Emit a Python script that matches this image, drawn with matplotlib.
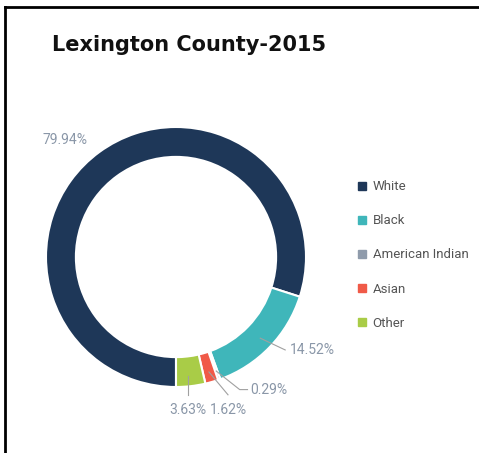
import numpy as np
import matplotlib
matplotlib.use("Agg")
import matplotlib.pyplot as plt
from matplotlib.lines import Line2D

categories = ["White", "Black", "American Indian", "Asian", "Other"]
values = [79.94, 14.52, 0.29, 1.62, 3.63]
colors = ["#1e3758", "#3fb6ba", "#8f9bab", "#f05a48", "#a9cc47"]
label_text = ["79.94%", "14.52%", "0.29%", "1.62%", "3.63%"]

W, H = 479, 453
fig = plt.figure(figsize=(W / 100, H / 100), dpi=100)

# border lines (left and top)
fig.add_artist(Line2D([5 / W, 5 / W], [0, 1 - 7 / H], transform=fig.transFigure, color="black", lw=2))
fig.add_artist(Line2D([5 / W, 1], [1 - 7 / H, 1 - 7 / H], transform=fig.transFigure, color="black", lw=2))

fig.text(52 / W, 1 - 45 / H, "Lexington County-2015", fontsize=15, fontweight="bold",
         color="#111111", va="center", ha="left")

cx, cy, R = 176, 257, 130
L = 1.3
half = L * R
ax = fig.add_axes([(cx - half) / W, 1 - (cy + half) / H, 2 * half / W, 2 * half / H])

wedges, _ = ax.pie(values, colors=colors, startangle=-90, counterclock=False, radius=1.0,
                   wedgeprops=dict(width=0.23, edgecolor="white", linewidth=1.5))
ax.set_xlim(-L, L)
ax.set_ylim(-L, L)
ax.set_aspect("equal")
ax.axis("off")

lab_font = dict(fontsize=10, color="#8a97a8", family=["Roboto", "DejaVu Sans"])
lc = "#a0a0a0"

# compute mid angles
angs = []
start = -90.0
for v in values:
    span = v / sum(values) * 360
    angs.append(np.deg2rad(start - span / 2))
    start -= span

def ringpt(i, r=0.9):
    return r * np.cos(angs[i]), r * np.sin(angs[i])

# 79.94%
ax.text(-0.68, 0.90, label_text[0], ha="right", va="center", **lab_font)
# 14.52%
x0, y0 = ringpt(1)
ax.plot([x0, 0.84], [y0, -0.715], color=lc, lw=0.8)
ax.text(0.875, -0.715, label_text[1], ha="left", va="center", **lab_font)
# 0.29%
x0, y0 = ringpt(2, 0.93)
ax.plot([x0, 0.49, 0.55], [y0, -1.02, -1.02], color=lc, lw=0.8)
ax.text(0.57, -1.02, label_text[2], ha="left", va="center", **lab_font)
# 1.62%
x0, y0 = ringpt(3, 0.92)
ax.plot([x0, 0.40], [y0, -1.06], color=lc, lw=0.8)
ax.text(0.40, -1.18, label_text[3], ha="center", va="center", **lab_font)
# 3.63%
x0, y0 = ringpt(4, 0.92)
ax.plot([0.092, 0.092], [y0, -1.06], color=lc, lw=0.8)
ax.text(0.092, -1.18, label_text[4], ha="center", va="center", **lab_font)

handles = [Line2D([], [], marker="s", linestyle="none", markersize=6, markerfacecolor=c,
                  markeredgecolor=c) for c in colors]
fig.legend(handles, categories, loc="center left", bbox_to_anchor=(345 / W, 1 - 255 / H),
           frameon=False, handlelength=0.8, handletextpad=0.4, labelspacing=1.6,
           prop=dict(size=9.5, family=["Roboto", "DejaVu Sans"]),
           labelcolor="#555555")

fig.savefig("out.png", dpi=100)
